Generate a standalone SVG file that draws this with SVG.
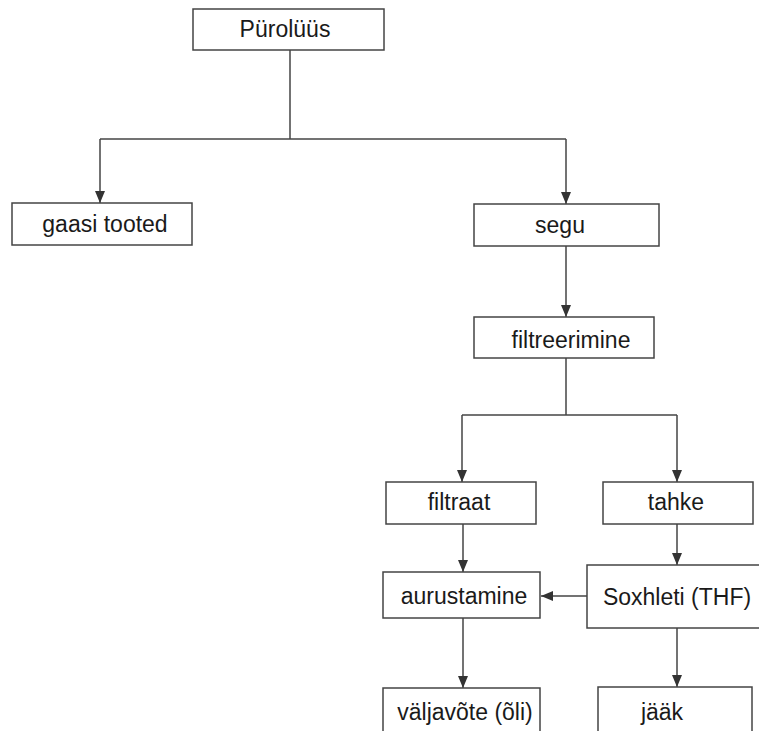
<svg xmlns="http://www.w3.org/2000/svg" width="759" height="731" viewBox="0 0 759 731">
<style>
.box{fill:#fff;stroke:#444;stroke-width:1.5}
.lbl{font-family:"Liberation Sans",Arial,sans-serif;font-size:23px;fill:#1a1a1a;text-anchor:middle}
.ln{fill:none;stroke:#444;stroke-width:1.5}
</style>
<defs>
<marker id="ah" viewBox="0 0 12 10" markerWidth="12" markerHeight="10" refX="12" refY="5" orient="auto" markerUnits="userSpaceOnUse">
<path d="M0,0 L12,5 L0,10 z" fill="#333"/>
</marker>
</defs>
<rect width="759" height="731" fill="#fff"/>
<g id="connectors">
<path class="ln" d="M290,50 V139"/>
<path class="ln" d="M100,139 H566"/>
<path class="ln" d="M100,139 V203" marker-end="url(#ah)"/>
<path class="ln" d="M566,139 V204" marker-end="url(#ah)"/>
<path class="ln" d="M566,246 V317" marker-end="url(#ah)"/>
<path class="ln" d="M566,358 V415"/>
<path class="ln" d="M462,415 H677"/>
<path class="ln" d="M462,415 V482" marker-end="url(#ah)"/>
<path class="ln" d="M677,415 V482" marker-end="url(#ah)"/>
<path class="ln" d="M463,524 V572" marker-end="url(#ah)"/>
<path class="ln" d="M677,524 V565" marker-end="url(#ah)"/>
<path class="ln" d="M587,596 H541" marker-end="url(#ah)"/>
<path class="ln" d="M463,618 V688" marker-end="url(#ah)"/>
<path class="ln" d="M677,628 V687" marker-end="url(#ah)"/>
</g>
<g id="node-pyrolyys">
<rect class="box" x="193" y="9" width="191" height="41"/>
<text class="lbl" x="285" y="37">Pürolüüs</text>
</g>
<g id="node-gaasi">
<rect class="box" x="12" y="203" width="180" height="42"/>
<text class="lbl" x="105" y="232">gaasi tooted</text>
</g>
<g id="node-segu">
<rect class="box" x="474" y="204" width="185" height="42"/>
<text class="lbl" x="560" y="233">segu</text>
</g>
<g id="node-filtreerimine">
<rect class="box" x="474" y="317" width="180" height="41"/>
<text class="lbl" x="571" y="348">filtreerimine</text>
</g>
<g id="node-filtraat">
<rect class="box" x="386" y="482" width="150" height="42"/>
<text class="lbl" x="459" y="510">filtraat</text>
</g>
<g id="node-tahke">
<rect class="box" x="603" y="482" width="150" height="42"/>
<text class="lbl" x="676" y="510">tahke</text>
</g>
<g id="node-aurustamine">
<rect class="box" x="383" y="572" width="157" height="46"/>
<text class="lbl" x="464" y="604">aurustamine</text>
</g>
<g id="node-soxhleti">
<rect class="box" x="587" y="565" width="180" height="63"/>
<text class="lbl" x="677" y="605">Soxhleti (THF)</text>
</g>
<g id="node-valjavote">
<rect class="box" x="383" y="688" width="157" height="60"/>
<text class="lbl" x="465" y="720">väljavõte (õli)</text>
</g>
<g id="node-jaak">
<rect class="box" x="598" y="687" width="154" height="60"/>
<text class="lbl" x="662" y="720">jääk</text>
</g>
</svg>
